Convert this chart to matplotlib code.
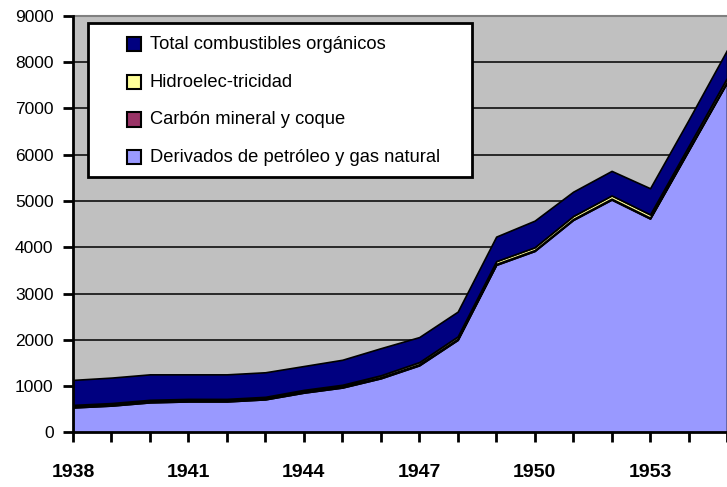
import matplotlib
matplotlib.use("Agg")
import matplotlib.pyplot as plt
from matplotlib.patches import Rectangle

# datos (miles de toneladas equivalentes, aprox.)
anios = list(range(1938, 1956))
derivados = [540, 580, 650, 670, 670, 715, 860, 970, 1170, 1450, 2000,
             3620, 3920, 4590, 5030, 4620, 6090, 7560]
carbon = [25, 25, 25, 25, 25, 25, 25, 25, 25, 25, 25,
          20, 20, 20, 20, 20, 20, 20]
hidro = [30, 30, 30, 30, 30, 30, 35, 35, 40, 45, 50,
         60, 60, 65, 70, 70, 75, 80]
organicos = [540, 550, 550, 530, 530, 530, 515, 540, 585, 540, 535,
             530, 575, 525, 530, 565, 565, 600]

series = ["Derivados de petróleo y gas natural", "Carbón mineral y coque",
          "Hidroelec-tricidad", "Total combustibles orgánicos"]
colores = ["#9999FF", "#993366", "#FFFF99", "#000080"]
y_ticks = list(range(0, 9001, 1000))
x_labels = [1938, 1941, 1944, 1947, 1950, 1953]

fuente = ["Liberation Sans Narrow", "Liberation Sans", "DejaVu Sans"]

fig = plt.figure(figsize=(7.27, 4.87), dpi=100)
ax = fig.add_axes([0.1004, 0.112, 0.8996, 0.8556])
ax.set_facecolor("#C0C0C0")

# lineas de division por detras del area
for v in y_ticks[1:-1]:
    ax.axhline(v, color="black", lw=1.1, zorder=1)

ax.stackplot(anios, derivados, carbon, hidro, organicos, colors=colores,
             edgecolor="black", linewidth=1.2, zorder=2)

ax.set_xlim(1938, 1955)
ax.set_ylim(0, 9000)
ax.set_yticks(y_ticks)
ax.set_xticks(anios)
ax.set_xticklabels([str(a) if a in x_labels else "" for a in anios])

for s in ["top", "right"]:
    ax.spines[s].set_visible(False)
ax.axhline(9000, color="#808080", lw=1.5, zorder=3, clip_on=False)
for s in ["left", "bottom"]:
    ax.spines[s].set_linewidth(2)
    ax.spines[s].set_zorder(4)

ax.tick_params(axis="both", direction="out", length=7, width=2)
ax.tick_params(axis="x", pad=16)
ax.tick_params(axis="y", pad=7)
for t in ax.get_yticklabels():
    t.set_fontfamily(["Liberation Sans", "DejaVu Sans"])
    t.set_fontsize(12.5)
for t in ax.get_xticklabels():
    t.set_fontfamily(fuente)
    t.set_fontsize(14)
    t.set_fontweight("bold")

# leyenda dibujada a mano (caja blanca con borde negro)
ax.add_patch(Rectangle((0.023, 0.613), 0.587, 0.370, transform=ax.transAxes,
                       facecolor="white", edgecolor="black", lw=2, zorder=5,
                       clip_on=False))
filas_y = [0.932, 0.841, 0.750, 0.661]
for nombre, col, yy in zip(series[::-1], colores[::-1], filas_y):
    ax.add_patch(Rectangle((0.083, yy - 0.016), 0.0214, 0.034,
                           transform=ax.transAxes, facecolor=col,
                           edgecolor="black", lw=1.5, zorder=6))
    ax.text(0.117, yy, nombre, transform=ax.transAxes, va="center", ha="left",
            fontsize=13.2, family=["Liberation Sans", "DejaVu Sans"], zorder=6)

fig.savefig("out.png", dpi=100)
